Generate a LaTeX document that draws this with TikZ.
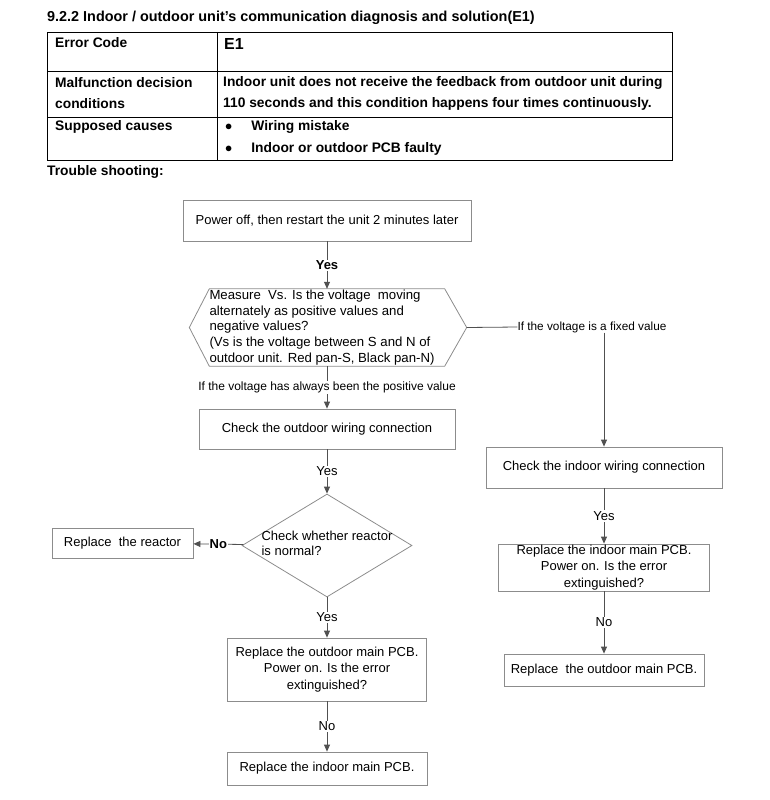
\documentclass[tikz,border=0pt]{standalone}
\usepackage{fontspec}
\setmainfont{Liberation Sans}
\usetikzlibrary{arrows.meta,shapes.geometric}
\definecolor{borda}{HTML}{8C8C8C}
\definecolor{linha}{HTML}{505050}

\begin{document}
\begin{tikzpicture}[x=1pt, y=-1pt,
  caixa/.style={draw=borda, line width=0.8pt, align=center, inner sep=0pt,
                font=\fontsize{13}{16.5}\selectfont},
  seta/.style={-{Triangle[length=7pt,width=6pt]}, draw=linha, line width=0.8pt},
  rotulo/.style={fill=white, inner sep=1pt, font=\fontsize{13}{14}\selectfont},
  celula/.style={anchor=west, inner sep=0pt, font=\bfseries\fontsize{13.8}{15}\selectfont}
]
\useasboundingbox (0,0) rectangle (770,800);

% table header
\node[celula, font=\bfseries\fontsize{14.4}{16}\selectfont] (titulo) at (47,18)
  {9.2.2 Indoor / outdoor unit’s communication diagnosis and solution(E1)};
\draw[line width=0.7pt] (47,32) rectangle (672,160);
\draw[line width=0.7pt] (217,32) -- (217,160);
\draw[line width=0.7pt] (47,71) -- (672,71);
\draw[line width=0.7pt] (47,117) -- (672,117);
\node[celula] (c11) at (55,43) {Error Code};
\node[celula, font=\bfseries\fontsize{16}{18}\selectfont] (c12) at (224,44) {E1};
\node[celula] (c21) at (55,83) {Malfunction decision};
\node[celula] (c21b) at (55,104) {conditions};
\node[celula] (c22) at (223,83) {Indoor unit does not receive the feedback from outdoor unit during};
\node[celula] (c22b) at (223,104) {110 seconds and this condition happens four times continuously.};
\node[celula] (c31) at (55,127) {Supposed causes};
\node[celula] (c32) at (225,127) {$\bullet$\hspace{19pt}Wiring mistake};
\node[celula] (c32b) at (225,149) {$\bullet$\hspace{19pt}Indoor or outdoor PCB faulty};
\node[celula] (ts) at (47,172) {Trouble shooting:};

% flowchart
\node[caixa, minimum width=288, minimum height=41] (deslig) at (327,220.5)
  {Power off, then restart the unit 2 minutes later};
\node[align=left, inner sep=0pt, minimum width=233, minimum height=77,
      font=\fontsize{13.2}{15.7}\selectfont] (medir) at (327,327.5)
  {\parbox{235pt}{Measure\ \ Vs. Is the voltage\ \ moving\\alternately as positive values and\\negative values?\\(Vs is the voltage between S and N of\\outdoor unit. Red pan-S, Black pan-N)}};
\draw[borda, line width=0.8pt] (medir.north west) -- (medir.north east) -- ([xshift=22pt]medir.east)
  -- (medir.south east) -- (medir.south west) -- ([xshift=-20pt]medir.west) -- cycle;
\node[caixa, minimum width=256, minimum height=40] (extw) at (327,429)
  {Check the outdoor wiring connection};
\node[caixa, diamond, minimum width=170, minimum height=103] (reat) at (327,545.5) {};
\node[align=left, inner sep=0pt, font=\fontsize{13}{15}\selectfont] (reattxt) at (327,543)
  {Check whether reactor\\is normal?};
\node[caixa, minimum width=141, minimum height=30] (trocar) at (122.5,543)
  {Replace\ \ the reactor};
\node[caixa, minimum width=199, minimum height=63] (extpcb) at (327,669.5)
  {Replace the outdoor main PCB.\\Power on. Is the error\\extinguished?};
\node[caixa, minimum width=200, minimum height=33] (intpcb) at (327,768.5)
  {Replace the indoor main PCB.};
\node[caixa, minimum width=236, minimum height=41] (intw) at (604,467.5)
  {Check the indoor wiring connection};
\node[caixa, minimum width=211, minimum height=47] (intpcbb) at (604,567.5)
  {Replace the indoor main PCB.\\Power on. Is the error\\extinguished?};
\node[caixa, minimum width=200, minimum height=32] (extpcbb) at (604,670)
  {Replace\ \ the outdoor main PCB.};
\node[rotulo, inner sep=0pt, fill=none, font=\fontsize{11.8}{13}\selectfont] (fixo) at (592,327)
  {If the voltage is a fixed value};

\draw[seta] (deslig) -- node[rotulo]{\textbf{Yes}} (medir);
\draw[seta] (medir) -- node[rotulo, font=\fontsize{12}{13}\selectfont]{If the voltage has always been the positive value} (extw);
\draw[seta] (extw) -- node[rotulo]{Yes} (reat);
\draw[seta] (reat) -- node[rotulo]{\textbf{No}} (trocar);
\draw[seta] (reat) -- node[rotulo]{Yes} (extpcb);
\draw[seta] (extpcb) -- node[rotulo]{No} (intpcb);
\draw[draw=linha, line width=0.8pt] ([xshift=22pt]medir.east) -- (fixo.west);
\draw[seta] (fixo.south -| intw.north) -- (intw.north);
\draw[seta] (intw) -- node[rotulo]{Yes} (intpcbb);
\draw[seta] (intpcbb) -- node[rotulo]{No} (extpcbb);
\end{tikzpicture}
\end{document}
